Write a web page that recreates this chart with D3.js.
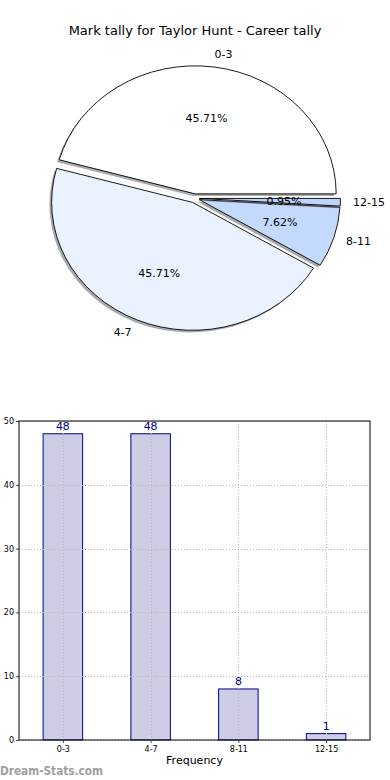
<!DOCTYPE html>
<html>
<head>
<meta charset="utf-8">
<script src="https://cdn.jsdelivr.net/npm/d3@7"></script>
<style>
  body { margin: 0; background: #fff; }
  svg { display: block; font-family: "DejaVu Sans", sans-serif; }
</style>
</head>
<body>
<svg id="chart" width="390" height="780"></svg>
<script>
const categories = ["0-3", "4-7", "8-11", "12-15"];
const counts = [48, 48, 8, 1];
const sliceColors = ["#ffffff", "#ebf2ff", "#c4d9ff", "#bcd4ff"];
const yTicks = [0, 10, 20, 30, 40, 50];

const svg = d3.select("#chart");

// title
svg.append("text")
	.text("Mark tally for Taylor Hunt - Career tally")
	.attr("x", 195)
	.attr("y", 35)
	.attr("font-size", 13)
	.attr("text-anchor", "middle");

// ---- pie (elliptical, like an un-equal matplotlib axes) ----
const cx = 194.5, cy = 198.3, rx = 141, ry = 128;
const explode = 0.035;
const total = d3.sum(counts);

const pie = d3.pie()
	.sort(null)
	.startAngle(Math.PI / 2)
	.endAngle(Math.PI / 2 - 2 * Math.PI);
const arcs = pie(counts);
const arc = d3.arc().innerRadius(0).outerRadius(1);

// mid angle in matplotlib convention (ccw from east)
const mid = d => Math.PI / 2 - (d.startAngle + d.endAngle) / 2;

const pieG = svg.append("g");
arcs.forEach((d, i) => {
	const t = mid(d);
	const ox = cx + explode * rx * Math.cos(t);
	const oy = cy - explode * ry * Math.sin(t);
	pieG.append("path")
		.attr("d", arc(d))
		.attr("transform", `translate(${ox - 2.2},${oy + 2.2}) scale(${rx},${ry})`)
		.attr("fill", "#555")
		.attr("opacity", 0.5);
	pieG.append("path")
		.attr("d", arc(d))
		.attr("transform", `translate(${ox},${oy}) scale(${rx},${ry})`)
		.attr("fill", sliceColors[i])
		.attr("stroke", "#000")
		.attr("stroke-width", 0.9)
		.attr("vector-effect", "non-scaling-stroke");
	// category label
	const lx = ox + 1.1 * rx * Math.cos(t);
	const ly = oy - 1.1 * ry * Math.sin(t);
	pieG.append("text")
		.text(categories[i])
		.attr("x", lx - (Math.cos(t) >= 0 ? 1.5 : 0))
		.attr("y", ly)
		.attr("dy", "0.35em")
		.attr("font-size", 11)
		.attr("text-anchor", Math.cos(t) >= 0 ? "start" : "end");
	// percent label
	pieG.append("text")
		.text((counts[i] / total * 100).toFixed(2) + "%")
		.attr("x", ox + 0.6 * rx * Math.cos(t))
		.attr("y", oy - 0.6 * ry * Math.sin(t))
		.attr("dy", "0.35em")
		.attr("font-size", 11)
		.attr("text-anchor", "middle");
});

// ---- bar chart ----
const plotLeft = 19, plotRight = 370, plotTop = 421, plotBottom = 740;
const xScale = d3.scaleLinear().domain([-0.5, 3.5]).range([plotLeft, plotRight]);
const yScale = d3.scaleLinear().domain([0, 50]).range([plotBottom, plotTop]);
const barW = 0.45;

svg.selectAll(".bar")
	.data(counts)
	.enter()
	.append("rect")
	.attr("class", "bar")
	.attr("x", (d, i) => xScale(i - barW / 2))
	.attr("y", d => yScale(d))
	.attr("width", xScale(barW) - xScale(0))
	.attr("height", d => plotBottom - yScale(d))
	.attr("fill", "#cdcde5")
	.attr("stroke", "#00008b")
	.attr("stroke-width", 1);

// grid (on top of the bars)
const grid = svg.append("g")
	.attr("stroke", "#b8b8b8")
	.attr("stroke-width", 1)
	.attr("stroke-dasharray", "1,2");
yTicks.forEach(v => {
	grid.append("line")
		.attr("x1", plotLeft).attr("x2", plotRight)
		.attr("y1", Math.round(yScale(v)) + 0.5).attr("y2", Math.round(yScale(v)) + 0.5);
});
categories.forEach((c, i) => {
	grid.append("line")
		.attr("x1", Math.round(xScale(i)) + 0.5).attr("x2", Math.round(xScale(i)) + 0.5)
		.attr("y1", plotTop).attr("y2", plotBottom);
});

// value labels
svg.selectAll(".val")
	.data(counts)
	.enter()
	.append("text")
	.attr("class", "val")
	.text(d => d)
	.attr("x", (d, i) => xScale(i))
	.attr("y", d => yScale(d) - 4)
	.attr("font-size", 11)
	.attr("fill", "#00008b")
	.attr("text-anchor", "middle");

// axes
const yAxis = d3.axisLeft(yScale).tickValues(yTicks).tickSize(3).tickSizeOuter(0);
const xAxis = d3.axisBottom(xScale)
	.tickValues(d3.range(categories.length))
	.tickFormat(i => categories[i])
	.tickSize(3)
	.tickSizeOuter(0);

const yG = svg.append("g")
	.attr("transform", `translate(${plotLeft},0)`)
	.call(yAxis);
const xG = svg.append("g")
	.attr("transform", `translate(0,${plotBottom})`)
	.call(xAxis);
[yG, xG].forEach(g => {
	g.select(".domain").remove();
	g.selectAll(".tick line").attr("stroke", "#555");
	g.selectAll(".tick text")
		.attr("font-size", 8)
		.attr("font-family", "DejaVu Sans, sans-serif")
		.attr("fill", "#000");
});
yG.selectAll(".tick text").attr("x", -5);

// frame
svg.append("rect")
	.attr("x", plotLeft)
	.attr("y", plotTop)
	.attr("width", plotRight - plotLeft)
	.attr("height", plotBottom - plotTop)
	.attr("fill", "none")
	.attr("stroke", "#000")
	.attr("stroke-width", 1);

// x label
svg.append("text")
	.text("Frequency")
	.attr("x", (plotLeft + plotRight) / 2)
	.attr("y", 764)
	.attr("font-size", 11)
	.attr("text-anchor", "middle");

// watermark
svg.append("text")
	.text("Dream-Stats.com")
	.attr("x", 0)
	.attr("y", 775)
	.attr("font-size", 11.5)
	.attr("font-weight", "bold")
	.attr("fill", "#a0a0a0")
	.attr("font-family", "DejaVu Sans, sans-serif")
	.attr("textLength", 103)
	.attr("lengthAdjust", "spacingAndGlyphs");
</script>
</body>
</html>
